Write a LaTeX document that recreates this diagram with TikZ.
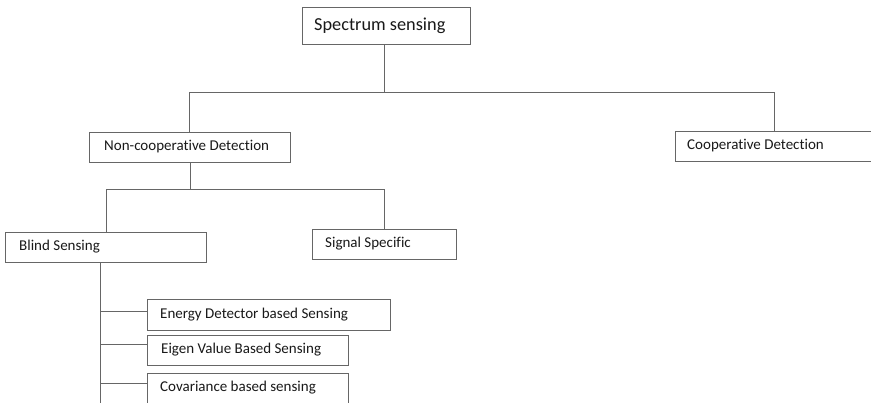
\documentclass[tikz,border=0pt]{standalone}
\usepackage{fontspec}
\setmainfont{Carlito}[Ligatures={NoCommon}]
\begin{document}
\begin{tikzpicture}[x=1pt,y=-1pt,
  every node/.style={font=\fontsize{15}{17}\selectfont, text=black!90},
  box/.style={draw=black!60, line width=0.9pt, anchor=north west, inner xsep=0pt, inner ysep=0pt, align=left},
  conn/.style={draw=black!60, line width=0.9pt}]
\useasboundingbox (0,0) rectangle (871,403);
\clip (0,0) rectangle (871,403);
\fill[white] (0,0) rectangle (871,403);
\node[box, minimum width=168pt, minimum height=37pt] (spec) at (302,7) {};
\node[anchor=west, inner sep=0pt, font=\fontsize{18.3}{21}\selectfont] (spect) at (314,25.5) {Spectrum sensing};
\node[box, minimum width=201pt, minimum height=30pt] (noncoop) at (89,132) {};
\node[anchor=west, inner sep=0pt] (noncoopt) at (104,147) {Non-cooperative Detection};
\node[box, minimum width=240pt, minimum height=30pt] (coop) at (675,131) {};
\node[anchor=west, inner sep=0pt] (coopt) at (687,146) {Cooperative Detection};
\node[box, minimum width=201pt, minimum height=30pt] (blind) at (5,232) {};
\node[anchor=west, inner sep=0pt] (blindt) at (19,247) {Blind Sensing};
\node[box, minimum width=144pt, minimum height=30pt] (signal) at (312,229) {};
\node[anchor=west, inner sep=0pt] (signalt) at (325,244) {Signal Specific};
\node[box, minimum width=243pt, minimum height=31pt] (energy) at (147,299) {};
\node[anchor=west, inner sep=0pt] (energyt) at (160,314.5) {Energy Detector based Sensing};
\node[box, minimum width=201pt, minimum height=30pt] (eigen) at (147,335) {};
\node[anchor=west, inner sep=0pt] (eigent) at (161,350) {Eigen Value Based Sensing};
\node[box, minimum width=201pt, minimum height=40pt] (cov) at (147,373) {};
\node[anchor=west, inner sep=0pt] (covt) at (160,388) {Covariance based sensing};
% connectors
\coordinate (j1) at (384,92);
\coordinate (j2) at (190,189);
\coordinate (trunk) at (100,420);
\draw[conn] (spec.south -| j1) -- (j1);
\draw[conn] (noncoop.north -| 189,0) |- (774,92) -- (coop.north -| 774,0);
\draw[conn] (noncoop.south -| j2) -- (j2);
\draw[conn] (blind.north -| 106,0) |- (384,189) -- (signal.north -| 384,0);
\draw[conn] (blind.south -| trunk) -- (trunk);
\draw[conn] (100,311) -- (energy.west |- 0,311);
\draw[conn] (100,344) -- (eigen.west |- 0,344);
\draw[conn] (100,383) -- (cov.west |- 0,383);
\end{tikzpicture}
\end{document}
